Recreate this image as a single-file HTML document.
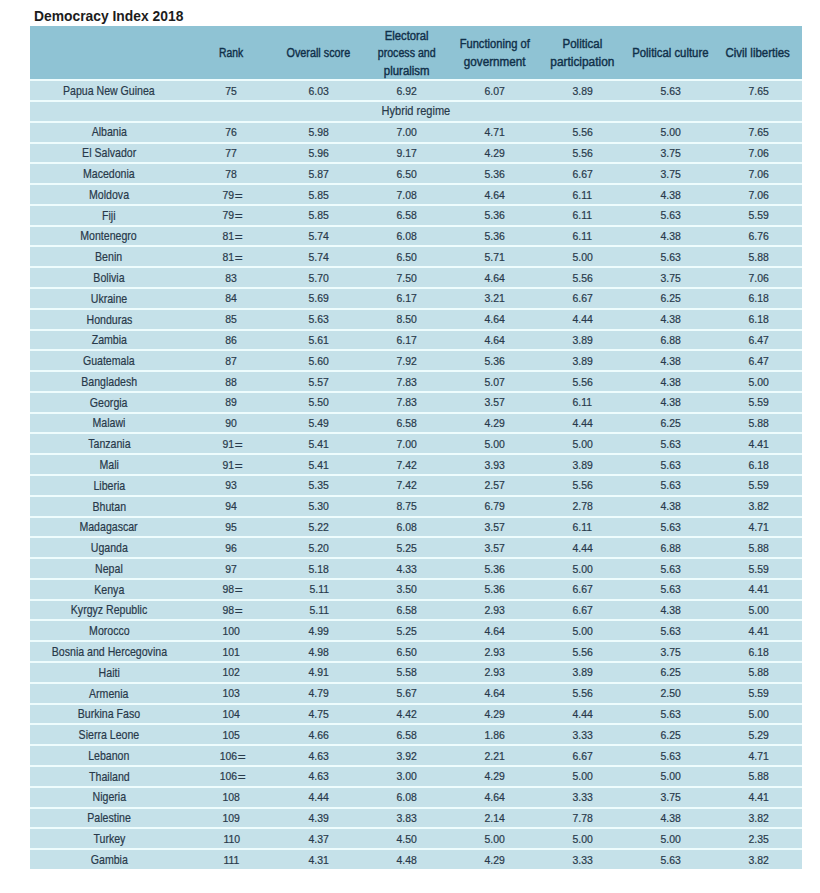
<!DOCTYPE html>
<html><head><meta charset="utf-8"><title>Democracy Index 2018</title>
<style>
*{margin:0;padding:0;box-sizing:border-box}
html,body{width:820px;height:893px;background:#fff;overflow:hidden}
body{position:relative;font-family:"Liberation Sans",Arial,sans-serif}
h1{position:absolute;left:34px;top:0;height:0;font-size:14.5px;font-weight:bold;color:#1c1c1c;line-height:0;white-space:nowrap}
h1 span{position:absolute;left:0;top:15.6px;display:inline-block;line-height:0;transform:scaleX(0.955);transform-origin:0 0}
.bg{position:absolute;left:30px;top:79px;width:772px;height:790px;background:#c5e1e9}
.hd{position:absolute;left:30px;top:26px;width:772px;height:53px;background:#8fc3d4}
.s{position:absolute;left:30px;width:772px;height:2px;background:#eefcfd}
.hc{position:absolute;top:26px;height:53px;width:90px;display:flex;align-items:center;justify-content:center;text-align:center;font-size:12px;line-height:17.5px;color:#10304a;white-space:nowrap}
.hi{position:relative;top:1.3px}
.hc span{display:block;-webkit-text-stroke:0.4px #10304a}
.x{position:absolute;height:0;line-height:0;text-align:center;white-space:nowrap;color:#28394a}
.x span{display:inline-block;line-height:0}
.n{font-size:12.2px}
.n span{transform:scaleX(0.868);-webkit-text-stroke:0.2px #28394a}
.d{font-size:11px}
.d span{transform:scaleX(0.95);-webkit-text-stroke:0.2px #28394a}
.eq{font-style:normal;display:inline-block;margin-left:0.8px;transform:translateY(0.9px) scaleX(1.3);transform-origin:0 0}
.w{font-size:12.2px}
.w span{transform:scaleX(0.905);-webkit-text-stroke:0.2px #28394a}
</style></head><body>
<h1><span>Democracy Index 2018</span></h1>
<div class="hd"></div>
<div class="bg"></div>
<div class="hc" style="left:185.93px"><div class="hi"><span style="transform:scaleX(0.86)">Rank</span></div></div>
<div class="hc" style="left:273.79px"><div class="hi"><span style="transform:scaleX(0.9)">Overall score</span></div></div>
<div class="hc" style="left:361.64px"><div class="hi"><span style="transform:scaleX(0.94)">Electoral</span><span style="transform:scaleX(0.885)">process and</span><span style="transform:scaleX(0.95)">pluralism</span></div></div>
<div class="hc" style="left:449.50px"><div class="hi"><span style="transform:scaleX(0.93)">Functioning of</span><span style="transform:scaleX(0.975)">government</span></div></div>
<div class="hc" style="left:537.36px"><div class="hi"><span style="transform:scaleX(0.96)">Political</span><span style="transform:scaleX(0.99)">participation</span></div></div>
<div class="hc" style="left:625.21px"><div class="hi"><span style="transform:scaleX(0.945)">Political culture</span></div></div>
<div class="hc" style="left:713.07px"><div class="hi"><span style="transform:scaleX(0.955)">Civil liberties</span></div></div>
<div class="s" style="top:79px"></div>
<div class="s" style="top:100px"></div>
<div class="s" style="top:121px"></div>
<div class="s" style="top:142px"></div>
<div class="s" style="top:162px"></div>
<div class="s" style="top:183px"></div>
<div class="s" style="top:204px"></div>
<div class="s" style="top:225px"></div>
<div class="s" style="top:245px"></div>
<div class="s" style="top:266px"></div>
<div class="s" style="top:287px"></div>
<div class="s" style="top:308px"></div>
<div class="s" style="top:329px"></div>
<div class="s" style="top:349px"></div>
<div class="s" style="top:370px"></div>
<div class="s" style="top:391px"></div>
<div class="s" style="top:412px"></div>
<div class="s" style="top:432px"></div>
<div class="s" style="top:453px"></div>
<div class="s" style="top:474px"></div>
<div class="s" style="top:495px"></div>
<div class="s" style="top:516px"></div>
<div class="s" style="top:536px"></div>
<div class="s" style="top:557px"></div>
<div class="s" style="top:578px"></div>
<div class="s" style="top:599px"></div>
<div class="s" style="top:619px"></div>
<div class="s" style="top:640px"></div>
<div class="s" style="top:661px"></div>
<div class="s" style="top:682px"></div>
<div class="s" style="top:703px"></div>
<div class="s" style="top:723px"></div>
<div class="s" style="top:744px"></div>
<div class="s" style="top:765px"></div>
<div class="s" style="top:786px"></div>
<div class="s" style="top:807px"></div>
<div class="s" style="top:827px"></div>
<div class="s" style="top:848px"></div>
<div class="x n" style="top:90.92px;left:29.00px;width:160px"><span>Papua New Guinea</span></div>
<div class="x d" style="top:90.64px;left:191.33px;width:80px"><span>75</span></div>
<div class="x d" style="top:90.64px;left:279.19px;width:80px"><span>6.03</span></div>
<div class="x d" style="top:90.64px;left:367.04px;width:80px"><span>6.92</span></div>
<div class="x d" style="top:90.64px;left:454.90px;width:80px"><span>6.07</span></div>
<div class="x d" style="top:90.64px;left:542.76px;width:80px"><span>3.89</span></div>
<div class="x d" style="top:90.64px;left:630.61px;width:80px"><span>5.63</span></div>
<div class="x d" style="top:90.64px;left:718.47px;width:80px"><span>7.65</span></div>
<div class="x w" style="top:111.00px;left:30px;width:772px"><span class="h">Hybrid regime</span></div>
<div class="x n" style="top:132.48px;left:29.00px;width:160px"><span>Albania</span></div>
<div class="x d" style="top:132.20px;left:191.33px;width:80px"><span>76</span></div>
<div class="x d" style="top:132.20px;left:279.19px;width:80px"><span>5.98</span></div>
<div class="x d" style="top:132.20px;left:367.04px;width:80px"><span>7.00</span></div>
<div class="x d" style="top:132.20px;left:454.90px;width:80px"><span>4.71</span></div>
<div class="x d" style="top:132.20px;left:542.76px;width:80px"><span>5.56</span></div>
<div class="x d" style="top:132.20px;left:630.61px;width:80px"><span>5.00</span></div>
<div class="x d" style="top:132.20px;left:718.47px;width:80px"><span>7.65</span></div>
<div class="x n" style="top:153.26px;left:29.00px;width:160px"><span>El Salvador</span></div>
<div class="x d" style="top:152.98px;left:191.33px;width:80px"><span>77</span></div>
<div class="x d" style="top:152.98px;left:279.19px;width:80px"><span>5.96</span></div>
<div class="x d" style="top:152.98px;left:367.04px;width:80px"><span>9.17</span></div>
<div class="x d" style="top:152.98px;left:454.90px;width:80px"><span>4.29</span></div>
<div class="x d" style="top:152.98px;left:542.76px;width:80px"><span>5.56</span></div>
<div class="x d" style="top:152.98px;left:630.61px;width:80px"><span>3.75</span></div>
<div class="x d" style="top:152.98px;left:718.47px;width:80px"><span>7.06</span></div>
<div class="x n" style="top:174.04px;left:29.00px;width:160px"><span>Macedonia</span></div>
<div class="x d" style="top:173.76px;left:191.33px;width:80px"><span>78</span></div>
<div class="x d" style="top:173.76px;left:279.19px;width:80px"><span>5.87</span></div>
<div class="x d" style="top:173.76px;left:367.04px;width:80px"><span>6.50</span></div>
<div class="x d" style="top:173.76px;left:454.90px;width:80px"><span>5.36</span></div>
<div class="x d" style="top:173.76px;left:542.76px;width:80px"><span>6.67</span></div>
<div class="x d" style="top:173.76px;left:630.61px;width:80px"><span>3.75</span></div>
<div class="x d" style="top:173.76px;left:718.47px;width:80px"><span>7.06</span></div>
<div class="x n" style="top:194.82px;left:29.00px;width:160px"><span>Moldova</span></div>
<div class="x d" style="top:194.54px;left:191.33px;width:80px"><span>79<i class="eq">=</i></span></div>
<div class="x d" style="top:194.54px;left:279.19px;width:80px"><span>5.85</span></div>
<div class="x d" style="top:194.54px;left:367.04px;width:80px"><span>7.08</span></div>
<div class="x d" style="top:194.54px;left:454.90px;width:80px"><span>4.64</span></div>
<div class="x d" style="top:194.54px;left:542.76px;width:80px"><span>6.11</span></div>
<div class="x d" style="top:194.54px;left:630.61px;width:80px"><span>4.38</span></div>
<div class="x d" style="top:194.54px;left:718.47px;width:80px"><span>7.06</span></div>
<div class="x n" style="top:215.60px;left:29.00px;width:160px"><span>Fiji</span></div>
<div class="x d" style="top:215.32px;left:191.33px;width:80px"><span>79<i class="eq">=</i></span></div>
<div class="x d" style="top:215.32px;left:279.19px;width:80px"><span>5.85</span></div>
<div class="x d" style="top:215.32px;left:367.04px;width:80px"><span>6.58</span></div>
<div class="x d" style="top:215.32px;left:454.90px;width:80px"><span>5.36</span></div>
<div class="x d" style="top:215.32px;left:542.76px;width:80px"><span>6.11</span></div>
<div class="x d" style="top:215.32px;left:630.61px;width:80px"><span>5.63</span></div>
<div class="x d" style="top:215.32px;left:718.47px;width:80px"><span>5.59</span></div>
<div class="x n" style="top:236.38px;left:29.00px;width:160px"><span>Montenegro</span></div>
<div class="x d" style="top:236.10px;left:191.33px;width:80px"><span>81<i class="eq">=</i></span></div>
<div class="x d" style="top:236.10px;left:279.19px;width:80px"><span>5.74</span></div>
<div class="x d" style="top:236.10px;left:367.04px;width:80px"><span>6.08</span></div>
<div class="x d" style="top:236.10px;left:454.90px;width:80px"><span>5.36</span></div>
<div class="x d" style="top:236.10px;left:542.76px;width:80px"><span>6.11</span></div>
<div class="x d" style="top:236.10px;left:630.61px;width:80px"><span>4.38</span></div>
<div class="x d" style="top:236.10px;left:718.47px;width:80px"><span>6.76</span></div>
<div class="x n" style="top:257.16px;left:29.00px;width:160px"><span>Benin</span></div>
<div class="x d" style="top:256.88px;left:191.33px;width:80px"><span>81<i class="eq">=</i></span></div>
<div class="x d" style="top:256.88px;left:279.19px;width:80px"><span>5.74</span></div>
<div class="x d" style="top:256.88px;left:367.04px;width:80px"><span>6.50</span></div>
<div class="x d" style="top:256.88px;left:454.90px;width:80px"><span>5.71</span></div>
<div class="x d" style="top:256.88px;left:542.76px;width:80px"><span>5.00</span></div>
<div class="x d" style="top:256.88px;left:630.61px;width:80px"><span>5.63</span></div>
<div class="x d" style="top:256.88px;left:718.47px;width:80px"><span>5.88</span></div>
<div class="x n" style="top:277.94px;left:29.00px;width:160px"><span>Bolivia</span></div>
<div class="x d" style="top:277.66px;left:191.33px;width:80px"><span>83</span></div>
<div class="x d" style="top:277.66px;left:279.19px;width:80px"><span>5.70</span></div>
<div class="x d" style="top:277.66px;left:367.04px;width:80px"><span>7.50</span></div>
<div class="x d" style="top:277.66px;left:454.90px;width:80px"><span>4.64</span></div>
<div class="x d" style="top:277.66px;left:542.76px;width:80px"><span>5.56</span></div>
<div class="x d" style="top:277.66px;left:630.61px;width:80px"><span>3.75</span></div>
<div class="x d" style="top:277.66px;left:718.47px;width:80px"><span>7.06</span></div>
<div class="x n" style="top:298.72px;left:29.00px;width:160px"><span>Ukraine</span></div>
<div class="x d" style="top:298.44px;left:191.33px;width:80px"><span>84</span></div>
<div class="x d" style="top:298.44px;left:279.19px;width:80px"><span>5.69</span></div>
<div class="x d" style="top:298.44px;left:367.04px;width:80px"><span>6.17</span></div>
<div class="x d" style="top:298.44px;left:454.90px;width:80px"><span>3.21</span></div>
<div class="x d" style="top:298.44px;left:542.76px;width:80px"><span>6.67</span></div>
<div class="x d" style="top:298.44px;left:630.61px;width:80px"><span>6.25</span></div>
<div class="x d" style="top:298.44px;left:718.47px;width:80px"><span>6.18</span></div>
<div class="x n" style="top:319.50px;left:29.00px;width:160px"><span>Honduras</span></div>
<div class="x d" style="top:319.22px;left:191.33px;width:80px"><span>85</span></div>
<div class="x d" style="top:319.22px;left:279.19px;width:80px"><span>5.63</span></div>
<div class="x d" style="top:319.22px;left:367.04px;width:80px"><span>8.50</span></div>
<div class="x d" style="top:319.22px;left:454.90px;width:80px"><span>4.64</span></div>
<div class="x d" style="top:319.22px;left:542.76px;width:80px"><span>4.44</span></div>
<div class="x d" style="top:319.22px;left:630.61px;width:80px"><span>4.38</span></div>
<div class="x d" style="top:319.22px;left:718.47px;width:80px"><span>6.18</span></div>
<div class="x n" style="top:340.28px;left:29.00px;width:160px"><span>Zambia</span></div>
<div class="x d" style="top:340.00px;left:191.33px;width:80px"><span>86</span></div>
<div class="x d" style="top:340.00px;left:279.19px;width:80px"><span>5.61</span></div>
<div class="x d" style="top:340.00px;left:367.04px;width:80px"><span>6.17</span></div>
<div class="x d" style="top:340.00px;left:454.90px;width:80px"><span>4.64</span></div>
<div class="x d" style="top:340.00px;left:542.76px;width:80px"><span>3.89</span></div>
<div class="x d" style="top:340.00px;left:630.61px;width:80px"><span>6.88</span></div>
<div class="x d" style="top:340.00px;left:718.47px;width:80px"><span>6.47</span></div>
<div class="x n" style="top:361.06px;left:29.00px;width:160px"><span>Guatemala</span></div>
<div class="x d" style="top:360.78px;left:191.33px;width:80px"><span>87</span></div>
<div class="x d" style="top:360.78px;left:279.19px;width:80px"><span>5.60</span></div>
<div class="x d" style="top:360.78px;left:367.04px;width:80px"><span>7.92</span></div>
<div class="x d" style="top:360.78px;left:454.90px;width:80px"><span>5.36</span></div>
<div class="x d" style="top:360.78px;left:542.76px;width:80px"><span>3.89</span></div>
<div class="x d" style="top:360.78px;left:630.61px;width:80px"><span>4.38</span></div>
<div class="x d" style="top:360.78px;left:718.47px;width:80px"><span>6.47</span></div>
<div class="x n" style="top:381.84px;left:29.00px;width:160px"><span>Bangladesh</span></div>
<div class="x d" style="top:381.56px;left:191.33px;width:80px"><span>88</span></div>
<div class="x d" style="top:381.56px;left:279.19px;width:80px"><span>5.57</span></div>
<div class="x d" style="top:381.56px;left:367.04px;width:80px"><span>7.83</span></div>
<div class="x d" style="top:381.56px;left:454.90px;width:80px"><span>5.07</span></div>
<div class="x d" style="top:381.56px;left:542.76px;width:80px"><span>5.56</span></div>
<div class="x d" style="top:381.56px;left:630.61px;width:80px"><span>4.38</span></div>
<div class="x d" style="top:381.56px;left:718.47px;width:80px"><span>5.00</span></div>
<div class="x n" style="top:402.62px;left:29.00px;width:160px"><span>Georgia</span></div>
<div class="x d" style="top:402.34px;left:191.33px;width:80px"><span>89</span></div>
<div class="x d" style="top:402.34px;left:279.19px;width:80px"><span>5.50</span></div>
<div class="x d" style="top:402.34px;left:367.04px;width:80px"><span>7.83</span></div>
<div class="x d" style="top:402.34px;left:454.90px;width:80px"><span>3.57</span></div>
<div class="x d" style="top:402.34px;left:542.76px;width:80px"><span>6.11</span></div>
<div class="x d" style="top:402.34px;left:630.61px;width:80px"><span>4.38</span></div>
<div class="x d" style="top:402.34px;left:718.47px;width:80px"><span>5.59</span></div>
<div class="x n" style="top:423.40px;left:29.00px;width:160px"><span>Malawi</span></div>
<div class="x d" style="top:423.12px;left:191.33px;width:80px"><span>90</span></div>
<div class="x d" style="top:423.12px;left:279.19px;width:80px"><span>5.49</span></div>
<div class="x d" style="top:423.12px;left:367.04px;width:80px"><span>6.58</span></div>
<div class="x d" style="top:423.12px;left:454.90px;width:80px"><span>4.29</span></div>
<div class="x d" style="top:423.12px;left:542.76px;width:80px"><span>4.44</span></div>
<div class="x d" style="top:423.12px;left:630.61px;width:80px"><span>6.25</span></div>
<div class="x d" style="top:423.12px;left:718.47px;width:80px"><span>5.88</span></div>
<div class="x n" style="top:444.18px;left:29.00px;width:160px"><span>Tanzania</span></div>
<div class="x d" style="top:443.90px;left:191.33px;width:80px"><span>91<i class="eq">=</i></span></div>
<div class="x d" style="top:443.90px;left:279.19px;width:80px"><span>5.41</span></div>
<div class="x d" style="top:443.90px;left:367.04px;width:80px"><span>7.00</span></div>
<div class="x d" style="top:443.90px;left:454.90px;width:80px"><span>5.00</span></div>
<div class="x d" style="top:443.90px;left:542.76px;width:80px"><span>5.00</span></div>
<div class="x d" style="top:443.90px;left:630.61px;width:80px"><span>5.63</span></div>
<div class="x d" style="top:443.90px;left:718.47px;width:80px"><span>4.41</span></div>
<div class="x n" style="top:464.96px;left:29.00px;width:160px"><span>Mali</span></div>
<div class="x d" style="top:464.68px;left:191.33px;width:80px"><span>91<i class="eq">=</i></span></div>
<div class="x d" style="top:464.68px;left:279.19px;width:80px"><span>5.41</span></div>
<div class="x d" style="top:464.68px;left:367.04px;width:80px"><span>7.42</span></div>
<div class="x d" style="top:464.68px;left:454.90px;width:80px"><span>3.93</span></div>
<div class="x d" style="top:464.68px;left:542.76px;width:80px"><span>3.89</span></div>
<div class="x d" style="top:464.68px;left:630.61px;width:80px"><span>5.63</span></div>
<div class="x d" style="top:464.68px;left:718.47px;width:80px"><span>6.18</span></div>
<div class="x n" style="top:485.74px;left:29.00px;width:160px"><span>Liberia</span></div>
<div class="x d" style="top:485.46px;left:191.33px;width:80px"><span>93</span></div>
<div class="x d" style="top:485.46px;left:279.19px;width:80px"><span>5.35</span></div>
<div class="x d" style="top:485.46px;left:367.04px;width:80px"><span>7.42</span></div>
<div class="x d" style="top:485.46px;left:454.90px;width:80px"><span>2.57</span></div>
<div class="x d" style="top:485.46px;left:542.76px;width:80px"><span>5.56</span></div>
<div class="x d" style="top:485.46px;left:630.61px;width:80px"><span>5.63</span></div>
<div class="x d" style="top:485.46px;left:718.47px;width:80px"><span>5.59</span></div>
<div class="x n" style="top:506.52px;left:29.00px;width:160px"><span>Bhutan</span></div>
<div class="x d" style="top:506.24px;left:191.33px;width:80px"><span>94</span></div>
<div class="x d" style="top:506.24px;left:279.19px;width:80px"><span>5.30</span></div>
<div class="x d" style="top:506.24px;left:367.04px;width:80px"><span>8.75</span></div>
<div class="x d" style="top:506.24px;left:454.90px;width:80px"><span>6.79</span></div>
<div class="x d" style="top:506.24px;left:542.76px;width:80px"><span>2.78</span></div>
<div class="x d" style="top:506.24px;left:630.61px;width:80px"><span>4.38</span></div>
<div class="x d" style="top:506.24px;left:718.47px;width:80px"><span>3.82</span></div>
<div class="x n" style="top:527.30px;left:29.00px;width:160px"><span>Madagascar</span></div>
<div class="x d" style="top:527.02px;left:191.33px;width:80px"><span>95</span></div>
<div class="x d" style="top:527.02px;left:279.19px;width:80px"><span>5.22</span></div>
<div class="x d" style="top:527.02px;left:367.04px;width:80px"><span>6.08</span></div>
<div class="x d" style="top:527.02px;left:454.90px;width:80px"><span>3.57</span></div>
<div class="x d" style="top:527.02px;left:542.76px;width:80px"><span>6.11</span></div>
<div class="x d" style="top:527.02px;left:630.61px;width:80px"><span>5.63</span></div>
<div class="x d" style="top:527.02px;left:718.47px;width:80px"><span>4.71</span></div>
<div class="x n" style="top:548.08px;left:29.00px;width:160px"><span>Uganda</span></div>
<div class="x d" style="top:547.80px;left:191.33px;width:80px"><span>96</span></div>
<div class="x d" style="top:547.80px;left:279.19px;width:80px"><span>5.20</span></div>
<div class="x d" style="top:547.80px;left:367.04px;width:80px"><span>5.25</span></div>
<div class="x d" style="top:547.80px;left:454.90px;width:80px"><span>3.57</span></div>
<div class="x d" style="top:547.80px;left:542.76px;width:80px"><span>4.44</span></div>
<div class="x d" style="top:547.80px;left:630.61px;width:80px"><span>6.88</span></div>
<div class="x d" style="top:547.80px;left:718.47px;width:80px"><span>5.88</span></div>
<div class="x n" style="top:568.86px;left:29.00px;width:160px"><span>Nepal</span></div>
<div class="x d" style="top:568.58px;left:191.33px;width:80px"><span>97</span></div>
<div class="x d" style="top:568.58px;left:279.19px;width:80px"><span>5.18</span></div>
<div class="x d" style="top:568.58px;left:367.04px;width:80px"><span>4.33</span></div>
<div class="x d" style="top:568.58px;left:454.90px;width:80px"><span>5.36</span></div>
<div class="x d" style="top:568.58px;left:542.76px;width:80px"><span>5.00</span></div>
<div class="x d" style="top:568.58px;left:630.61px;width:80px"><span>5.63</span></div>
<div class="x d" style="top:568.58px;left:718.47px;width:80px"><span>5.59</span></div>
<div class="x n" style="top:589.64px;left:29.00px;width:160px"><span>Kenya</span></div>
<div class="x d" style="top:589.36px;left:191.33px;width:80px"><span>98<i class="eq">=</i></span></div>
<div class="x d" style="top:589.36px;left:279.19px;width:80px"><span>5.11</span></div>
<div class="x d" style="top:589.36px;left:367.04px;width:80px"><span>3.50</span></div>
<div class="x d" style="top:589.36px;left:454.90px;width:80px"><span>5.36</span></div>
<div class="x d" style="top:589.36px;left:542.76px;width:80px"><span>6.67</span></div>
<div class="x d" style="top:589.36px;left:630.61px;width:80px"><span>5.63</span></div>
<div class="x d" style="top:589.36px;left:718.47px;width:80px"><span>4.41</span></div>
<div class="x n" style="top:610.42px;left:29.00px;width:160px"><span>Kyrgyz Republic</span></div>
<div class="x d" style="top:610.14px;left:191.33px;width:80px"><span>98<i class="eq">=</i></span></div>
<div class="x d" style="top:610.14px;left:279.19px;width:80px"><span>5.11</span></div>
<div class="x d" style="top:610.14px;left:367.04px;width:80px"><span>6.58</span></div>
<div class="x d" style="top:610.14px;left:454.90px;width:80px"><span>2.93</span></div>
<div class="x d" style="top:610.14px;left:542.76px;width:80px"><span>6.67</span></div>
<div class="x d" style="top:610.14px;left:630.61px;width:80px"><span>4.38</span></div>
<div class="x d" style="top:610.14px;left:718.47px;width:80px"><span>5.00</span></div>
<div class="x n" style="top:631.20px;left:29.00px;width:160px"><span>Morocco</span></div>
<div class="x d" style="top:630.92px;left:191.33px;width:80px"><span>100</span></div>
<div class="x d" style="top:630.92px;left:279.19px;width:80px"><span>4.99</span></div>
<div class="x d" style="top:630.92px;left:367.04px;width:80px"><span>5.25</span></div>
<div class="x d" style="top:630.92px;left:454.90px;width:80px"><span>4.64</span></div>
<div class="x d" style="top:630.92px;left:542.76px;width:80px"><span>5.00</span></div>
<div class="x d" style="top:630.92px;left:630.61px;width:80px"><span>5.63</span></div>
<div class="x d" style="top:630.92px;left:718.47px;width:80px"><span>4.41</span></div>
<div class="x n" style="top:651.98px;left:29.00px;width:160px"><span>Bosnia and Hercegovina</span></div>
<div class="x d" style="top:651.70px;left:191.33px;width:80px"><span>101</span></div>
<div class="x d" style="top:651.70px;left:279.19px;width:80px"><span>4.98</span></div>
<div class="x d" style="top:651.70px;left:367.04px;width:80px"><span>6.50</span></div>
<div class="x d" style="top:651.70px;left:454.90px;width:80px"><span>2.93</span></div>
<div class="x d" style="top:651.70px;left:542.76px;width:80px"><span>5.56</span></div>
<div class="x d" style="top:651.70px;left:630.61px;width:80px"><span>3.75</span></div>
<div class="x d" style="top:651.70px;left:718.47px;width:80px"><span>6.18</span></div>
<div class="x n" style="top:672.76px;left:29.00px;width:160px"><span>Haiti</span></div>
<div class="x d" style="top:672.48px;left:191.33px;width:80px"><span>102</span></div>
<div class="x d" style="top:672.48px;left:279.19px;width:80px"><span>4.91</span></div>
<div class="x d" style="top:672.48px;left:367.04px;width:80px"><span>5.58</span></div>
<div class="x d" style="top:672.48px;left:454.90px;width:80px"><span>2.93</span></div>
<div class="x d" style="top:672.48px;left:542.76px;width:80px"><span>3.89</span></div>
<div class="x d" style="top:672.48px;left:630.61px;width:80px"><span>6.25</span></div>
<div class="x d" style="top:672.48px;left:718.47px;width:80px"><span>5.88</span></div>
<div class="x n" style="top:693.54px;left:29.00px;width:160px"><span>Armenia</span></div>
<div class="x d" style="top:693.26px;left:191.33px;width:80px"><span>103</span></div>
<div class="x d" style="top:693.26px;left:279.19px;width:80px"><span>4.79</span></div>
<div class="x d" style="top:693.26px;left:367.04px;width:80px"><span>5.67</span></div>
<div class="x d" style="top:693.26px;left:454.90px;width:80px"><span>4.64</span></div>
<div class="x d" style="top:693.26px;left:542.76px;width:80px"><span>5.56</span></div>
<div class="x d" style="top:693.26px;left:630.61px;width:80px"><span>2.50</span></div>
<div class="x d" style="top:693.26px;left:718.47px;width:80px"><span>5.59</span></div>
<div class="x n" style="top:714.32px;left:29.00px;width:160px"><span>Burkina Faso</span></div>
<div class="x d" style="top:714.04px;left:191.33px;width:80px"><span>104</span></div>
<div class="x d" style="top:714.04px;left:279.19px;width:80px"><span>4.75</span></div>
<div class="x d" style="top:714.04px;left:367.04px;width:80px"><span>4.42</span></div>
<div class="x d" style="top:714.04px;left:454.90px;width:80px"><span>4.29</span></div>
<div class="x d" style="top:714.04px;left:542.76px;width:80px"><span>4.44</span></div>
<div class="x d" style="top:714.04px;left:630.61px;width:80px"><span>5.63</span></div>
<div class="x d" style="top:714.04px;left:718.47px;width:80px"><span>5.00</span></div>
<div class="x n" style="top:735.10px;left:29.00px;width:160px"><span>Sierra Leone</span></div>
<div class="x d" style="top:734.82px;left:191.33px;width:80px"><span>105</span></div>
<div class="x d" style="top:734.82px;left:279.19px;width:80px"><span>4.66</span></div>
<div class="x d" style="top:734.82px;left:367.04px;width:80px"><span>6.58</span></div>
<div class="x d" style="top:734.82px;left:454.90px;width:80px"><span>1.86</span></div>
<div class="x d" style="top:734.82px;left:542.76px;width:80px"><span>3.33</span></div>
<div class="x d" style="top:734.82px;left:630.61px;width:80px"><span>6.25</span></div>
<div class="x d" style="top:734.82px;left:718.47px;width:80px"><span>5.29</span></div>
<div class="x n" style="top:755.88px;left:29.00px;width:160px"><span>Lebanon</span></div>
<div class="x d" style="top:755.60px;left:191.33px;width:80px"><span>106<i class="eq">=</i></span></div>
<div class="x d" style="top:755.60px;left:279.19px;width:80px"><span>4.63</span></div>
<div class="x d" style="top:755.60px;left:367.04px;width:80px"><span>3.92</span></div>
<div class="x d" style="top:755.60px;left:454.90px;width:80px"><span>2.21</span></div>
<div class="x d" style="top:755.60px;left:542.76px;width:80px"><span>6.67</span></div>
<div class="x d" style="top:755.60px;left:630.61px;width:80px"><span>5.63</span></div>
<div class="x d" style="top:755.60px;left:718.47px;width:80px"><span>4.71</span></div>
<div class="x n" style="top:776.66px;left:29.00px;width:160px"><span>Thailand</span></div>
<div class="x d" style="top:776.38px;left:191.33px;width:80px"><span>106<i class="eq">=</i></span></div>
<div class="x d" style="top:776.38px;left:279.19px;width:80px"><span>4.63</span></div>
<div class="x d" style="top:776.38px;left:367.04px;width:80px"><span>3.00</span></div>
<div class="x d" style="top:776.38px;left:454.90px;width:80px"><span>4.29</span></div>
<div class="x d" style="top:776.38px;left:542.76px;width:80px"><span>5.00</span></div>
<div class="x d" style="top:776.38px;left:630.61px;width:80px"><span>5.00</span></div>
<div class="x d" style="top:776.38px;left:718.47px;width:80px"><span>5.88</span></div>
<div class="x n" style="top:797.44px;left:29.00px;width:160px"><span>Nigeria</span></div>
<div class="x d" style="top:797.16px;left:191.33px;width:80px"><span>108</span></div>
<div class="x d" style="top:797.16px;left:279.19px;width:80px"><span>4.44</span></div>
<div class="x d" style="top:797.16px;left:367.04px;width:80px"><span>6.08</span></div>
<div class="x d" style="top:797.16px;left:454.90px;width:80px"><span>4.64</span></div>
<div class="x d" style="top:797.16px;left:542.76px;width:80px"><span>3.33</span></div>
<div class="x d" style="top:797.16px;left:630.61px;width:80px"><span>3.75</span></div>
<div class="x d" style="top:797.16px;left:718.47px;width:80px"><span>4.41</span></div>
<div class="x n" style="top:818.22px;left:29.00px;width:160px"><span>Palestine</span></div>
<div class="x d" style="top:817.94px;left:191.33px;width:80px"><span>109</span></div>
<div class="x d" style="top:817.94px;left:279.19px;width:80px"><span>4.39</span></div>
<div class="x d" style="top:817.94px;left:367.04px;width:80px"><span>3.83</span></div>
<div class="x d" style="top:817.94px;left:454.90px;width:80px"><span>2.14</span></div>
<div class="x d" style="top:817.94px;left:542.76px;width:80px"><span>7.78</span></div>
<div class="x d" style="top:817.94px;left:630.61px;width:80px"><span>4.38</span></div>
<div class="x d" style="top:817.94px;left:718.47px;width:80px"><span>3.82</span></div>
<div class="x n" style="top:839.00px;left:29.00px;width:160px"><span>Turkey</span></div>
<div class="x d" style="top:838.72px;left:191.33px;width:80px"><span>110</span></div>
<div class="x d" style="top:838.72px;left:279.19px;width:80px"><span>4.37</span></div>
<div class="x d" style="top:838.72px;left:367.04px;width:80px"><span>4.50</span></div>
<div class="x d" style="top:838.72px;left:454.90px;width:80px"><span>5.00</span></div>
<div class="x d" style="top:838.72px;left:542.76px;width:80px"><span>5.00</span></div>
<div class="x d" style="top:838.72px;left:630.61px;width:80px"><span>5.00</span></div>
<div class="x d" style="top:838.72px;left:718.47px;width:80px"><span>2.35</span></div>
<div class="x n" style="top:859.78px;left:29.00px;width:160px"><span>Gambia</span></div>
<div class="x d" style="top:859.50px;left:191.33px;width:80px"><span>111</span></div>
<div class="x d" style="top:859.50px;left:279.19px;width:80px"><span>4.31</span></div>
<div class="x d" style="top:859.50px;left:367.04px;width:80px"><span>4.48</span></div>
<div class="x d" style="top:859.50px;left:454.90px;width:80px"><span>4.29</span></div>
<div class="x d" style="top:859.50px;left:542.76px;width:80px"><span>3.33</span></div>
<div class="x d" style="top:859.50px;left:630.61px;width:80px"><span>5.63</span></div>
<div class="x d" style="top:859.50px;left:718.47px;width:80px"><span>3.82</span></div>
</body></html>
